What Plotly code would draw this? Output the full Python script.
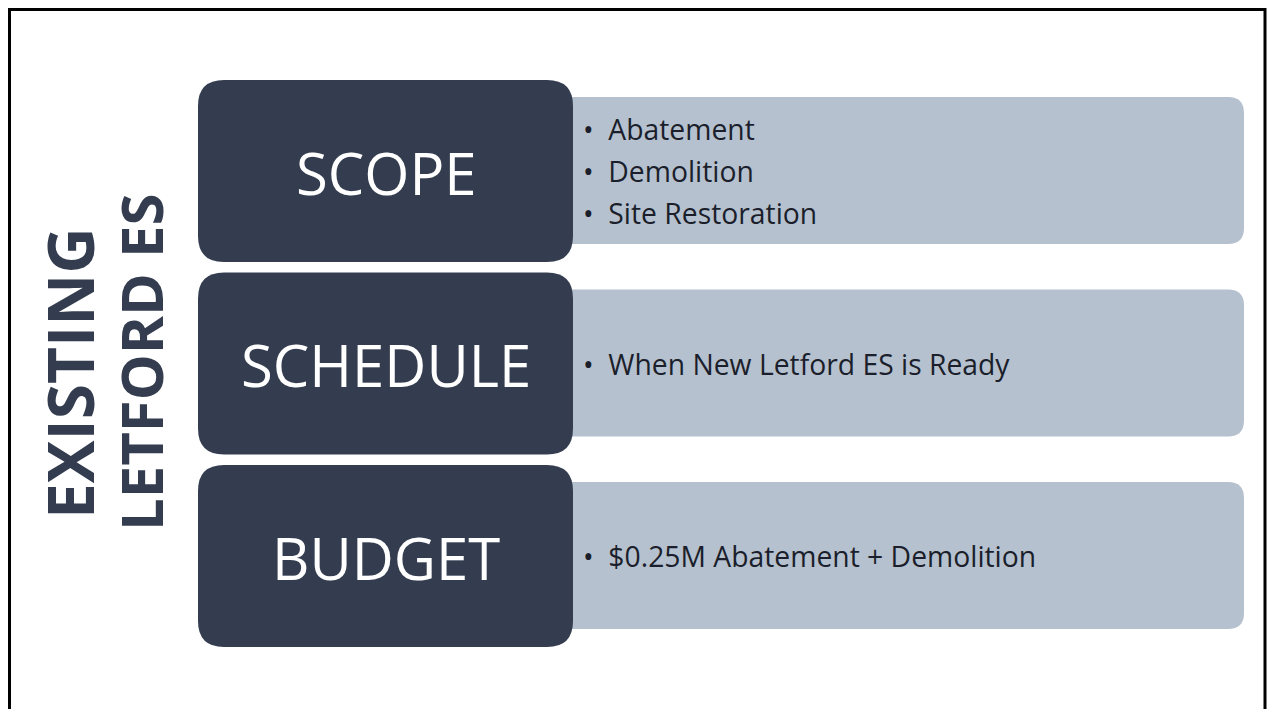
import plotly.graph_objects as go

# ---- content ----
title_lines = ["EXISTING", "LETFORD ES"]
categories = ["SCOPE", "SCHEDULE", "BUDGET"]
details = [
    ["Abatement", "Demolition", "Site Restoration"],
    ["When New Letford ES is Ready"],
    ["$0.25M Abatement + Demolition"],
]

W, H = 1275, 717
OFF = 8  # page body margin
DARK = "#343D4F"
LIGHT = "#B6C1CF"
TEXT_DARK = "#1B1F2B"


def rounded_rect(x0, y0, x1, y1, r):
    return (f"M {x0+r},{y0} L {x1-r},{y0} Q {x1},{y0} {x1},{y0+r} "
            f"L {x1},{y1-r} Q {x1},{y1} {x1-r},{y1} L {x0+r},{y1} "
            f"Q {x0},{y1} {x0},{y1-r} L {x0},{y0+r} Q {x0},{y0} {x0+r},{y0} Z")


fig = go.Figure()
fig.add_trace(go.Scatter(x=[OFF, W], y=[OFF, H - OFF], mode="markers",
                         marker=dict(opacity=0), hoverinfo="skip", showlegend=False))

shapes = []
annotations = []

row_top0 = 80
row_step = 192.5
dark_h = 182
light_off = 17
light_h = 147

for i, (cat, items) in enumerate(zip(categories, details)):
    top = row_top0 + i * row_step
    shapes.append(dict(type="path", path=rounded_rect(540, top + light_off, 1244, top + light_off + light_h, 16),
                       fillcolor=LIGHT, line=dict(width=0), layer="below"))
    shapes.append(dict(type="path", path=rounded_rect(198, top, 573, top + dark_h, 26),
                       fillcolor=DARK, line=dict(width=0), layer="below"))
    cy = top + dark_h / 2
    annotations.append(dict(x=386, y=cy + 1, text=cat, showarrow=False, xanchor="center", yanchor="middle",
                            font=dict(family="Open Sans", size=58, color="white")))
    n = len(items)
    spacing = 42
    for j, it in enumerate(items):
        yy = cy + (j - (n - 1) / 2) * spacing
        annotations.append(dict(x=581, y=yy, text="•  " + it, showarrow=False, xanchor="left", yanchor="middle",
                                font=dict(family="Open Sans", size=28.3, color=TEXT_DARK)))

# vertical title
for line, xc, yc, sz in zip(title_lines, [69, 140], [373, 362], [64, 58]):
    annotations.append(dict(x=xc, y=yc, text=f"<b>{line}</b>", textangle=-90, showarrow=False,
                            xanchor="center", yanchor="middle",
                            font=dict(family="Open Sans", size=sz, color=DARK)))

# frame border
shapes.append(dict(type="rect", x0=9.5, y0=9.5, x1=1265, y1=730, line=dict(color="black", width=3),
                   fillcolor="rgba(0,0,0,0)", layer="above"))

fig.update_layout(
    width=W - OFF, height=H - 2 * OFF,
    margin=dict(l=0, r=0, t=0, b=0),
    paper_bgcolor="white", plot_bgcolor="white",
    xaxis=dict(range=[OFF, W], visible=False, fixedrange=True),
    yaxis=dict(range=[H - OFF, OFF], visible=False, fixedrange=True),
    shapes=shapes, annotations=annotations,
    showlegend=False,
)

fig.write_html("out.html", config={"displayModeBar": False})
